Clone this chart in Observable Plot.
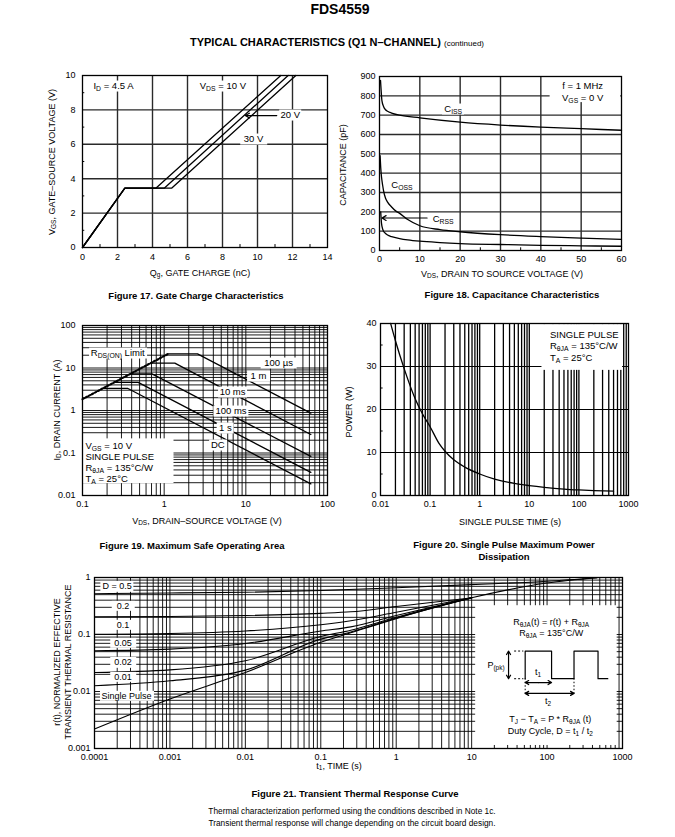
<!DOCTYPE html>
<html><head><meta charset="utf-8">
<script src="https://cdn.jsdelivr.net/npm/d3@7"></script>
<script src="https://cdn.jsdelivr.net/npm/@observablehq/plot@0.6"></script>
<style>
body{margin:0;background:#fff;}
#page{position:relative;width:675px;height:837px;font-family:"Liberation Sans",Arial,Helvetica,sans-serif;color:#000;overflow:hidden;background:#fff}
.t{position:absolute;white-space:nowrap;line-height:1}
.lbl{position:absolute;white-space:nowrap;line-height:1.15;background:#fff;font-size:9.5px;padding:0 2px}
sub{font-size:0.72em;vertical-align:-0.3em;line-height:0}
</style></head><body><div id="page"></div><script>
// ---------------- Figure 17: gate charge ----------------
const gcQ10 = [0, 2.42, 4.19, 11.33];
const gcQ20 = [0, 2.42, 4.67, 11.75];
const gcQ30 = [0, 2.42, 5.09, 12.19];
const gcV   = [0, 3.45, 3.45, 10];
const gcXTicks = [0, 2, 4, 6, 8, 10, 12, 14];
const gcXLabels = ["0", "2", "4", "6", "8", "10", "12", "14"];
const gcYTicks = [0, 2, 4, 6, 8, 10];
const gcYLabels = ["0", "2", "4", "6", "8", "10"];
const gcMinorX = [1, 3, 5, 7, 9, 11, 13];
const gcMinorY = [1, 3, 5, 7, 9];
const gcArrowX = [11.1, 9.3], gcArrowY = [7.67, 7.67];

// ---------------- Figure 18: capacitance ----------------
const cissV = [0.25, 0.4, 0.6, 1, 1.5, 2, 3, 5, 10, 20, 30, 40, 50, 60];
const cissC = [880, 830, 775, 745, 728, 720, 711, 700, 686, 664, 649, 638, 630, 622];
const cossV = [0.15, 0.3, 0.5, 0.8, 1, 1.5, 2, 3, 4, 5, 7, 10, 15, 20, 30, 40, 50, 60];
const cossC = [490, 430, 380, 335, 310, 270, 250, 225, 205, 192, 160, 128, 108, 97, 82, 72, 64, 58];
const crssV = [0.3, 0.5, 0.8, 1, 1.5, 2, 3, 5, 7, 10, 15, 20, 30, 40, 50, 60];
const crssC = [200, 140, 110, 100, 88, 80, 72, 62, 55, 48, 41, 36, 31, 27, 24, 22];
const capXTicks = [0, 10, 20, 30, 40, 50, 60];
const capXLabels = ["0", "10", "20", "30", "40", "50", "60"];
const capYTicks = [0, 100, 200, 300, 400, 500, 600, 700, 800, 900];
const capYLabels = ["0", "100", "200", "300", "400", "500", "600", "700", "800", "900"];
const capMinorX = [5, 15, 25, 35, 45, 55];
const capBoxX = [42.3, 59.8], capBoxY = [765, 898];
const capArrowX = [11.8, 0.6], capArrowY = [168, 168];

// ---------------- Figure 19: safe operating area ----------------
const rdsV = [0.1, 1.12], rdsI = [1.85, 21.5];
const soa100usV = [1.12, 2.56, 62.5], soa100usI = [21.5, 21.5, 0.865];
const soa1msV = [0.69, 1.35, 62.5], soa1msI = [13, 13, 0.272];
const soa10msV = [0.39, 0.71, 62.5], soa10msI = [7.3, 7.3, 0.083];
const soa100msV = [0.25, 0.48, 62.5], soa100msI = [4.6, 4.6, 0.035];
const soa1sV = [0.175, 0.36, 62.5], soa1sI = [3.3, 3.3, 0.0188];
const soaXTicks = [0.1, 1, 10, 100], soaXLabels = ["0.1", "1", "10", "100"];
const soaYTicks = [0.01, 0.1, 1, 10, 100], soaYLabels = ["0.01", "0.1", "1", "10", "100"];
const soaBoxX = [0.102, 1.32], soaBoxY = [0.019, 0.215];

// ---------------- Figure 20: single pulse power ----------------
const spT = [0.016, 0.02, 0.03, 0.05, 0.07, 0.1, 0.15, 0.2, 0.3, 0.5, 1, 2, 5, 10, 20, 50, 100, 200, 500];
const spP = [40, 36, 29.5, 22.5, 19, 16, 12.2, 10.3, 8.3, 6.6, 5.0, 3.8, 2.8, 2.3, 1.9, 1.5, 1.3, 1.15, 1.0];
const spXTicks = [0.01, 0.1, 1, 10, 100, 1000], spXLabels = ["0.01", "0.1", "1", "10", "100", "1000"];
const spYTicks = [0, 10, 20, 30, 40], spYLabels = ["0", "10", "20", "30", "40"];
const spMinorY = [5, 15, 25, 35];
const spBoxX = [18, 759], spBoxY = [29.1, 39.75];

// ---------------- Figure 21: transient thermal response ----------------
const ttT = [1e-4, 1e-3, 1e-2, 0.1, 1, 10, 100, 460];
const ttD05 = [0.52, 0.535, 0.55, 0.59, 0.66, 0.75, 0.86, 0.99];
const ttTs = [1e-4, 1e-3, 1e-2, 0.1, 0.25, 1, 10];
const ttD02 = [0.205, 0.207, 0.215, 0.235, 0.25, 0.31, 0.44];
const ttD01 = [0.101, 0.104, 0.115, 0.148, 0.174, 0.245, 0.44];
const ttD005 = [0.0518, 0.0554, 0.0695, 0.115, 0.136, 0.215, 0.44];
const ttD002 = [0.0216, 0.024, 0.0346, 0.092, 0.119, 0.2, 0.44];
const ttD001 = [0.0126, 0.0154, 0.0237, 0.083, 0.111, 0.195, 0.44];
const ttSingleT = [1e-4, 1e-3, 1e-2, 0.1, 0.25, 1, 10, 100, 460];
const ttSingle = [0.0022, 0.0074, 0.0215, 0.073, 0.107, 0.19, 0.44, 0.8, 0.99];
const ttXTicks = [0.0001, 0.001, 0.01, 0.1, 1, 10, 100, 1000];
const ttXLabels = ["0.0001", "0.001", "0.01", "0.1", "1", "10", "100", "1000"];
const ttYTicks = [0.001, 0.01, 0.1, 1], ttYLabels = ["0.001", "0.01", "0.1", "1"];
const ttBoxX = [11.3, 850], ttBoxY = [0.00113, 0.32];
// pulse sketch inside the inset (t in units of t1, P in units of P(pk))
const pulseT = [0, 0, 1, 1, 1.85, 1.85, 2.76, 2.76, 3.13];
const pulseP = [0, 1, 1, 0, 0, 1, 1, 0, 0];
const pulseArrows = [
  [-0.63, 0.5, -0.63, 1], [-0.63, 0.5, -0.63, 0],
  [0.5, -0.14, 0, -0.14], [0.5, -0.14, 1, -0.14],
  [0.92, -0.53, 0, -0.53], [0.92, -0.53, 1.85, -0.53]
];
const pulseDashLevels = [0, 1];
const pulseDashX = [-0.4, -0.05];
const pulseDropX = [0, 1.85], pulseDropY = [0, -0.62];

// ================= drawing =================
const FONT = '"Liberation Sans", Arial, Helvetica, sans-serif';
const page = document.getElementById("page");
const zip = (a, b) => a.map((v, i) => [v, b[i]]);
const lookup = (ticks, labels) => d => labels[ticks.findIndex(t => Math.abs(t - d) <= Math.abs(t) * 1e-9)];
const logGrid = dom => d3.scaleLog().domain(dom).ticks().filter(v => v > dom[0] * 1.0001 && v < dom[1] * 0.9999);

function mk(cls, html, css) {
  const d = document.createElement("div");
  d.className = cls; d.innerHTML = html; Object.assign(d.style, css);
  page.appendChild(d); return d;
}
function ptext(x, y, html, css = {}) {
  return mk("t", html, {left: x + "px", top: y + "px", transform: "translate(-50%,-50%)", ...css});
}
function vtext(x, y, html, css = {}) {
  return mk("t", html, {left: x + "px", top: y + "px", transform: "translate(-50%,-50%) rotate(-90deg)", ...css});
}
function scaleFn(s) {
  if (s.apply) return v => s.apply(v);
  return (s.type === "log" ? d3.scaleLog() : d3.scaleLinear()).domain(s.domain).range(s.range);
}
function chart(frame, m, opts) {
  const [x0, y0, x1, y1] = frame;
  const p = Plot.plot({
    width: x1 - x0 + m[3] + m[1], height: y1 - y0 + m[0] + m[2],
    marginTop: m[0], marginRight: m[1], marginBottom: m[2], marginLeft: m[3],
    style: {fontFamily: FONT, fontSize: "9px", color: "#000", background: "transparent", overflow: "visible"},
    ...opts
  });
  const w = document.createElement("div");
  Object.assign(w.style, {position: "absolute", left: (x0 - m[3]) + "px", top: (y0 - m[0]) + "px"});
  w.appendChild(p); page.appendChild(w);
  return {p, ox: x0 - m[3], oy: y0 - m[0], sx: scaleFn(p.scale("x")), sy: scaleFn(p.scale("y"))};
}
function lab(c, x, y, html, css = {}, anchor = "center") {
  const px = c.ox + c.sx(x), py = c.oy + c.sy(y);
  const tr = anchor === "left" ? "translate(0,-50%)" : "translate(-50%,-50%)";
  return mk("lbl", html, {left: px + "px", top: py + "px", transform: tr, ...css});
}
const axes = (xt, xl, yt, yl, px, py) => [
  Plot.axisX({ticks: xt, tickFormat: lookup(xt, xl), tickSize: 0, tickPadding: px, label: null, fontSize: 9}),
  Plot.axisY({ticks: yt, tickFormat: lookup(yt, yl), tickSize: 0, tickPadding: py, label: null, fontSize: 9})
];
const GRID = {stroke: "#2a2a2a", strokeWidth: 1.4};
const LGRID = {stroke: "#000", strokeWidth: 0.9};
const CURVE = {stroke: "#000", strokeWidth: 1.3};
const BOXTXT = {fontSize: "9.5px", background: "none", lineHeight: "1", padding: "0"};

// ----- titles -----
ptext(340, 9, "FDS4559", {fontSize: "14px", fontWeight: "bold"});
ptext(337, 42, 'TYPICAL CHARACTERISTICS (Q1 N–CHANNEL) <span style="font-size:8px;font-weight:normal">(continued)</span>', {fontSize: "11px", fontWeight: "bold"});

// ----- Fig 17 -----
const c17 = chart([82, 75, 327, 247], [10, 12, 24, 40], {
  x: {domain: [0, 14]}, y: {domain: [0, 10]},
  marks: [
    Plot.ruleX(gcXTicks.slice(1, -1), GRID),
    Plot.ruleY(gcYTicks.slice(1, -1), GRID),
    Plot.ruleX(gcMinorX, {y1: 0, y2: 0.17, stroke: "#000"}),
    Plot.ruleY(gcMinorY, {x1: 0, x2: 0.13, stroke: "#000"}),
    Plot.line(zip(gcQ10, gcV), CURVE),
    Plot.line(zip(gcQ20, gcV), CURVE),
    Plot.line(zip(gcQ30, gcV), CURVE),
    Plot.arrow([0], {x1: gcArrowX[0], y1: gcArrowY[0], x2: gcArrowX[1], y2: gcArrowY[1], stroke: "#000", strokeWidth: 1.2, headLength: 6}),
    ...axes(gcXTicks, gcXLabels, gcYTicks, gcYLabels, 6, 7),
    Plot.frame({stroke: "#000", strokeWidth: 1.3})
  ]
});
lab(c17, 1.8, 9.38, "I<sub>D</sub> = 4.5 A");
lab(c17, 8.05, 9.38, "V<sub>DS</sub> = 10 V");
lab(c17, 11.9, 7.67, "20 V", {padding: "0 1px"});
lab(c17, 9.8, 6.27, "30 V", {padding: "0 4px"});
ptext(200, 273, "Q<sub>g</sub>, GATE CHARGE (nC)", {fontSize: "9px"});
vtext(52, 162, "V<sub>GS</sub>, GATE–SOURCE VOLTAGE (V)", {fontSize: "9px"});
ptext(196, 296, "Figure 17. Gate Charge Characteristics", {fontSize: "9.5px", fontWeight: "bold"});

// ----- Fig 18 -----
const c18 = chart([379, 76, 621, 250], [10, 12, 24, 40], {
  x: {domain: [0, 60]}, y: {domain: [0, 900]},
  marks: [
    Plot.ruleX(capXTicks.slice(1, -1), GRID),
    Plot.ruleY(capYTicks.slice(1, -1), GRID),
    Plot.ruleX(capMinorX, {y1: 0, y2: 14, stroke: "#000"}),
    Plot.rect([0], {x1: capBoxX[0], x2: capBoxX[1], y1: capBoxY[0], y2: capBoxY[1], fill: "#fff"}),
    Plot.line(zip(cissV, cissC), {...CURVE, curve: "monotone-x"}),
    Plot.line(zip(cossV, cossC), {...CURVE, curve: "monotone-x"}),
    Plot.line(zip(crssV, crssC), {...CURVE, curve: "monotone-x"}),
    Plot.arrow([0], {x1: capArrowX[0], y1: capArrowY[0], x2: capArrowX[1], y2: capArrowY[1], stroke: "#000", strokeWidth: 1.2, headLength: 6}),
    ...axes(capXTicks, capXLabels, capYTicks, capYLabels, 5, 4),
    Plot.frame({stroke: "#000", strokeWidth: 1.3})
  ]
});
lab(c18, 18.4, 727, "C<sub>ISS</sub>");
lab(c18, 5.7, 337, "C<sub>OSS</sub>");
lab(c18, 15.9, 161, "C<sub>RSS</sub>");
lab(c18, 50.5, 848, "f = 1 MHz", {background: "none"});
lab(c18, 50.5, 788, "V<sub>GS</sub> = 0 V", {background: "none"});
ptext(502, 274, "V<sub>DS</sub>, DRAIN TO SOURCE VOLTAGE (V)", {fontSize: "9px"});
vtext(343, 165, "CAPACITANCE (pF)", {fontSize: "9px"});
ptext(512, 295, "Figure 18. Capacitance Characteristics", {fontSize: "9.5px", fontWeight: "bold"});

// ----- Fig 19 -----
const c19 = chart([82, 325, 327, 495], [10, 12, 24, 40], {
  x: {type: "log", domain: [0.1, 100]}, y: {type: "log", domain: [0.01, 100]},
  marks: [
    Plot.ruleX(logGrid([0.1, 100]), LGRID),
    Plot.ruleY(logGrid([0.01, 100]), LGRID),
    Plot.rect([0], {x1: soaBoxX[0], x2: soaBoxX[1], y1: soaBoxY[0], y2: soaBoxY[1], fill: "#fff"}),
    Plot.line(zip(soa100usV, soa100usI), CURVE),
    Plot.line(zip(soa1msV, soa1msI), CURVE),
    Plot.line(zip(soa10msV, soa10msI), CURVE),
    Plot.line(zip(soa100msV, soa100msI), CURVE),
    Plot.line(zip(soa1sV, soa1sI), CURVE),
    Plot.line(zip(rdsV, rdsI), {stroke: "#000", strokeWidth: 2.2, strokeDasharray: "1.6,1.9"}),
    ...axes(soaXTicks, soaXLabels, soaYTicks, soaYLabels, 5, 7),
    Plot.frame({stroke: "#000", strokeWidth: 1.3})
  ]
});
lab(c19, 0.274, 21.5, "R<sub>DS(ON)</sub> Limit");
lab(c19, 25.5, 13, "100 µs", {padding: "0 4px"});
lab(c19, 14.5, 6.3, "1 m", {padding: "0 4px"});
lab(c19, 6.98, 2.7, "10 ms");
lab(c19, 6.67, 0.96, "100 ms");
lab(c19, 5.7, 0.37, "1 s");
lab(c19, 4.6, 0.15, "DC");
lab(c19, 0.11, 0.142, "V<sub>GS</sub> = 10 V", BOXTXT, "left");
lab(c19, 0.11, 0.079, "SINGLE PULSE", BOXTXT, "left");
lab(c19, 0.11, 0.0425, "R<sub>θJA</sub> = 135°C/W", BOXTXT, "left");
lab(c19, 0.11, 0.0234, "T<sub>A</sub> = 25°C", BOXTXT, "left");
ptext(207, 521, "V<sub>DS</sub>, DRAIN–SOURCE VOLTAGE (V)", {fontSize: "9px"});
vtext(57, 410, "I<sub>D</sub>, DRAIN CURRENT (A)", {fontSize: "9px"});
ptext(192, 546, "Figure 19. Maximum Safe Operating Area", {fontSize: "9.5px", fontWeight: "bold"});

// ----- Fig 20 -----
const c20 = chart([380, 323, 628, 495], [10, 12, 24, 40], {
  x: {type: "log", domain: [0.01, 1000]}, y: {domain: [0, 40]},
  marks: [
    Plot.ruleX(logGrid([0.01, 1000]), {stroke: "#000", strokeWidth: 1.3}),
    Plot.ruleY(spYTicks.slice(1, -1), {stroke: "#000", strokeWidth: 1.2}),
    Plot.ruleY(spMinorY, {x1: 0.01, x2: 0.0113, stroke: "#000"}),
    Plot.rect([0], {x1: spBoxX[0], x2: spBoxX[1], y1: spBoxY[0], y2: spBoxY[1], fill: "#fff"}),
    Plot.line(zip(spT, spP), {...CURVE, curve: "monotone-x"}),
    ...axes(spXTicks, spXLabels, spYTicks, spYLabels, 5.5, 4),
    Plot.frame({stroke: "#000", strokeWidth: 1.3})
  ]
});
lab(c20, 24.3, 37.3, "SINGLE PULSE", {background: "none"}, "left");
lab(c20, 24.3, 34.7, "R<sub>θJA</sub> = 135°C/W", {background: "none"}, "left");
lab(c20, 24.3, 31.8, "T<sub>A</sub> = 25°C", {background: "none"}, "left");
ptext(510, 522, "SINGLE PULSE TIME (s)", {fontSize: "9px"});
vtext(349, 412, "POWER (W)", {fontSize: "9px"});
ptext(504, 545, "Figure 20. Single Pulse Maximum Power", {fontSize: "9.5px", fontWeight: "bold"});
ptext(504, 557, "Dissipation", {fontSize: "9.5px", fontWeight: "bold"});

// ----- Fig 21 -----
const c21 = chart([94, 577, 622, 748], [10, 12, 24, 45], {
  x: {type: "log", domain: [1e-4, 1e3]}, y: {type: "log", domain: [1e-3, 1]},
  marks: [
    Plot.ruleX(logGrid([1e-4, 1e3]), LGRID),
    Plot.ruleY(logGrid([1e-3, 1]), LGRID),
    Plot.rect([0], {x1: ttBoxX[0], x2: ttBoxX[1], y1: ttBoxY[0], y2: ttBoxY[1], fill: "#fff"}),
    Plot.line(zip(ttT, ttD05), {...CURVE, strokeWidth: 1.1, curve: "monotone-x"}),
    Plot.line(zip(ttTs, ttD02), {...CURVE, strokeWidth: 1.1, curve: "monotone-x"}),
    Plot.line(zip(ttTs, ttD01), {...CURVE, strokeWidth: 1.1, curve: "monotone-x"}),
    Plot.line(zip(ttTs, ttD005), {...CURVE, strokeWidth: 1.1, curve: "monotone-x"}),
    Plot.line(zip(ttTs, ttD002), {...CURVE, strokeWidth: 1.1, curve: "monotone-x"}),
    Plot.line(zip(ttTs, ttD001), {...CURVE, strokeWidth: 1.1, curve: "monotone-x"}),
    Plot.line(zip(ttSingleT, ttSingle), {...CURVE, strokeWidth: 1.1, curve: "monotone-x"}),
    ...axes(ttXTicks, ttXLabels, ttYTicks, ttYLabels, 5, 4),
    Plot.frame({stroke: "#000", strokeWidth: 1.3})
  ]
});
lab(c21, 2.03e-4, 0.687, "D = 0.5", {fontSize: "9px"});
lab(c21, 2.43e-4, 0.31, "0.2", {fontSize: "9px", padding: "0 5px"});
lab(c21, 2.43e-4, 0.146, "0.1", {fontSize: "9px", padding: "0 5px"});
lab(c21, 2.43e-4, 0.0695, "0.05", {fontSize: "9px", padding: "0 4px"});
lab(c21, 2.43e-4, 0.032, "0.02", {fontSize: "9px", padding: "0 4px"});
lab(c21, 2.43e-4, 0.0176, "0.01", {fontSize: "9px", padding: "0 4px"});
lab(c21, 2.7e-4, 0.0082, "Single Pulse", {fontSize: "9px"});
lab(c21, 115, 0.160, "R<sub>θJA</sub>(t) = r(t) + R<sub>θJA</sub>", {fontSize: "9px", background: "none"});
lab(c21, 115, 0.103, "R<sub>θJA</sub> = 135°C/W", {fontSize: "9px", background: "none"});
lab(c21, 112, 0.00318, "T<sub>J</sub> − T<sub>A</sub> = P * R<sub>θJA</sub> (t)", {fontSize: "9px", background: "none"});
lab(c21, 112, 0.0020, "Duty Cycle, D = t<sub>1</sub> / t<sub>2</sub>", {fontSize: "9px", background: "none"});

// pulse sketch
const cp = chart([492.6, 644.5, 611.4, 705.4], [0, 0, 0, 0], {
  x: {domain: [-1.2, 3.3], axis: null}, y: {domain: [-1.0, 1.2], axis: null},
  marks: [
    Plot.line(zip(pulseT, pulseP), {stroke: "#000", strokeWidth: 1.2}),
    Plot.ruleY(pulseDashLevels, {x1: pulseDashX[0], x2: pulseDashX[1], stroke: "#000", strokeDasharray: "2,2"}),
    Plot.ruleX(pulseDropX, {y1: pulseDropY[0], y2: pulseDropY[1], stroke: "#000", strokeDasharray: "1.5,2"}),
    Plot.arrow(pulseArrows, {x1: d => d[0], y1: d => d[1], x2: d => d[2], y2: d => d[3], stroke: "#000", strokeWidth: 1.2, headLength: 5})
  ]
});
lab(cp, -1.07, 0.46, "P<sub>(pk)</sub>", {fontSize: "9px", background: "none"});
lab(cp, 0.52, 0.2, "t<sub>1</sub>", {fontSize: "9px", background: "none"});
lab(cp, 0.9, -0.84, "t<sub>2</sub>", {fontSize: "9px", background: "none"});

ptext(339, 766, "t<sub>1</sub>, TIME (s)", {fontSize: "9px"});
vtext(57, 662, "r(t), NORMALIZED EFFECTIVE", {fontSize: "9px"});
vtext(68, 662, "TRANSIENT THERMAL RESISTANCE", {fontSize: "9px"});
ptext(355, 794, "Figure 21. Transient Thermal Response Curve", {fontSize: "9.5px", fontWeight: "bold"});
ptext(352, 811, "Thermal characterization performed using the conditions described in Note 1c.", {fontSize: "8.3px"});
ptext(352, 823, "Transient thermal response will change depending on the circuit board design.", {fontSize: "8.3px"});
</script></body></html>
